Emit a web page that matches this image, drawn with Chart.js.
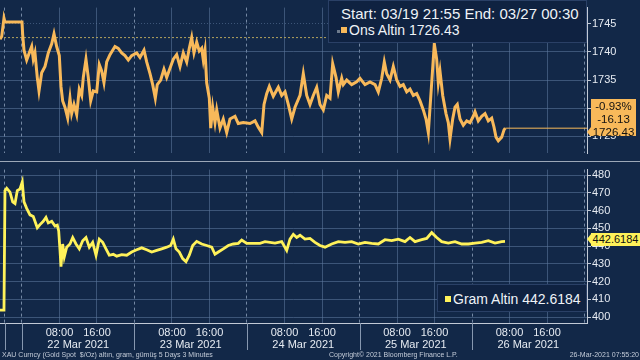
<!DOCTYPE html>
<html>
<head>
<meta charset="utf-8">
<script src="https://cdn.jsdelivr.net/npm/chart.js@4.4.0/dist/chart.umd.min.js"></script>
<style>
  html, body { margin: 0; padding: 0; background: #122848; width: 640px; height: 360px; overflow: hidden; }
  body { font-family: "Liberation Sans", Arial, sans-serif; color: #eef2f7; }
  #wrap { position: relative; width: 640px; height: 360px; }
  #topBox { position: absolute; left: 0; top: 0; width: 640px; height: 161px; }
  #botBox { position: absolute; left: 0; top: 162px; width: 640px; height: 190px; }
  #sep { position: absolute; left: 0; top: 161px; width: 640px; height: 1px; background: #9ca8b8; }
  .legend { position: absolute; background: #0f2241; border: 1px solid #2a4066; box-sizing: border-box; white-space: nowrap; }
  .legend .row { position: absolute; font-size: 14px; line-height: 16px; }
  .sq { display: inline-block; width: 6px; height: 6px; margin-right: 2px; vertical-align: 2px; }
  .tag { position: absolute; color: #111; text-align: center; font-size: 11.5px; line-height: 13px; }
  .foot { position: absolute; top: 350px; font-size: 7px; line-height: 9px; color: #c3cbd8; white-space: nowrap; }
</style>
</head>
<body>
<div id="wrap">
  <div id="topBox"><canvas id="onsChart"></canvas></div>
  <div id="sep"></div>
  <div id="botBox"><canvas id="gramChart"></canvas></div>

  <div class="legend" style="left:328px;top:0;width:259px;height:43px;">
    <div class="row" style="left:12px;top:5px;font-size:15px;">Start: 03/19 21:55 End: 03/27 00:30</div>
    <div class="row" style="left:8px;top:21px;"><span class="sq" style="background:#6d7a8c;width:3px;height:3px;margin-right:1px;"></span><span class="sq" style="background:#f8b95a;"></span>Ons Altin 1726.43</div>
  </div>

  <div class="legend" style="left:437px;top:284px;width:150px;height:28px;">
    <div class="row" style="left:7px;top:6px;"><span class="sq" style="background:#fff25a;"></span>Gram Altin 442.6184</div>
  </div>

  <div class="tag" style="left:591px;top:99px;width:45px;height:37px;background:#f8b95a;padding-top:1px;box-sizing:border-box;">-0.93%<br>-16.13<br>1726.43</div>
  <div style="position:absolute;left:587px;top:127px;width:0;height:0;border-top:5px solid transparent;border-bottom:5px solid transparent;border-right:4px solid #f8b95a;"></div>
  <div class="tag" style="left:591px;top:233px;width:49px;height:13px;background:#fff25a;font-size:11px;">442.6184</div>
  <div style="position:absolute;left:587px;top:234px;width:0;height:0;border-top:5px solid transparent;border-bottom:5px solid transparent;border-right:4px solid #fff25a;"></div>

  <div class="foot" style="left:2px;">XAU Curncy (Gold Spot &nbsp;$/Oz) altın, gram, gümüş 5 Days 3 Minutes</div>
  <div class="foot" style="left:329px;">Copyright© 2021 Bloomberg Finance L.P.</div>
  <div class="foot" style="right:1px;">26-Mar-2021 07:55:20</div>
</div>

<script>
// trading hours counted from 22 Mar 2021 00:00 (weekend squeezed out, like the terminal does)
const onsHours = [-4.69,-4.33,-3.84,-3.63,0,0.15,0.43,1.0,1.56,2.07,
  2.41,2.77,3.26,3.63,4.2,4.91,5.61,6.34,6.83,7.4,
  7.96,8.32,8.68,9.17,9.75,10.24,10.6,11.09,11.67,12.22,
  12.74,13.08,13.65,14.14,14.66,15.21,15.94,16.49,17.0,17.49,
  18.07,18.77,19.84,20.54,21.27,21.97,22.68,23.4,24.47,25.17,
  26.03,26.6,27.31,27.88,28.44,28.86,29.59,30.29,30.87,31.57,
  32.28,33.0,33.71,34.41,35.14,35.69,36.2,36.69,37.27,37.82,
  38.34,38.68,39.04,39.4,39.96,40.26,40.68,41.17,41.54,42.24,
  42.94,43.67,44.37,45.44,46.14,47.21,48.64,49.71,50.41,51.14,
  51.63,52.2,52.76,53.61,54.68,55.4,56.11,56.81,57.54,58.24,
  59.31,60.01,60.74,61.44,62.14,62.87,63.57,64.28,65.0,65.71,
  66.28,66.99,67.48,68.2,68.54,69.27,70.33,71.4,72.1,73.17,
  74.24,75.31,76.01,76.74,77.29,77.8,78.51,79.21,79.94,80.64,
  81.34,82.07,82.77,83.48,84.2,84.91,85.61,86.19,86.68,87.18,
  87.61,87.96,88.46,88.81,89.17,89.75,90.45,90.94,91.31,91.88,
  92.37,92.86,93.44,94.14,94.87,95.57,96.27,96.64,97.34,98.07,
  98.77,99.48,100.2,100.69,101.12,101.61,102.33,102.83,103.1];

const onsValues = [1742.26,1742.74,1746.02,1745.32,1745.32,1743.06,1740.32,1738.55,1739.84,1740.97,
  1738.71,1739.84,1735.48,1733.06,1736.29,1737.42,1739.84,1741.45,1743.23,1740.97,
  1739.35,1733.87,1731.29,1730.16,1728.23,1731.77,1729.03,1730.65,1728.87,1733.39,
  1732.26,1735.48,1738.71,1735.48,1731.29,1733.06,1732.9,1737.74,1736.61,1734.52,
  1738.23,1739.52,1740.97,1740.65,1739.84,1739.35,1738.55,1739.35,1739.84,1739.03,
  1740.32,1738.23,1736.13,1734.19,1731.77,1734.19,1735.0,1736.94,1735.48,1737.1,
  1738.71,1739.52,1737.42,1739.84,1738.23,1740.65,1742.58,1739.84,1741.77,1740.16,
  1740.65,1738.55,1740.32,1734.52,1731.77,1726.45,1730.16,1727.42,1729.68,1726.45,
  1728.06,1725.65,1728.06,1728.55,1727.26,1727.42,1727.26,1727.74,1726.61,1725.65,
  1730.65,1732.58,1733.87,1732.1,1733.71,1732.26,1732.9,1730.65,1728.06,1730.16,
  1732.26,1736.13,1732.26,1730.65,1732.26,1733.71,1730.65,1729.68,1732.26,1731.77,
  1737.9,1735.48,1732.9,1735.32,1734.19,1735.0,1734.19,1734.68,1735.32,1734.19,
  1734.68,1734.19,1732.9,1735.32,1738.23,1736.13,1735.0,1737.42,1735.0,1733.87,
  1734.19,1732.9,1733.39,1732.26,1732.58,1731.29,1729.68,1728.06,1725.65,1731.77,
  1737.1,1741.45,1738.71,1734.52,1736.61,1732.26,1729.03,1727.42,1724.52,1728.06,
  1730.16,1730.65,1728.06,1726.94,1727.74,1727.42,1728.55,1729.35,1727.74,1728.55,
  1729.03,1727.74,1728.23,1726.61,1724.84,1724.19,1724.84,1726.13,1726.43];

const gramHours = [-4.69,-3.84,-3.63,-3.26,-2.56,-1.98,-1.49,-1.0,-0.43,0.06,
  0.43,1.0,1.71,2.41,2.77,3.26,3.84,4.54,5.12,5.61,
  6.34,7.04,7.53,7.83,8.11,8.32,8.68,9.02,9.54,10.24,
  10.82,11.52,12.22,12.95,13.65,14.36,15.08,15.79,16.49,17.22,
  17.92,18.62,19.48,20.2,21.27,22.34,23.4,24.47,25.54,26.6,
  27.67,28.74,29.8,30.87,31.72,32.28,32.85,33.56,34.28,34.99,
  35.69,36.42,37.27,38.34,39.4,40.47,41.17,41.88,42.94,44.01,
  45.08,46.14,46.87,47.94,49.34,50.77,51.84,53.97,55.4,56.47,
  57.17,57.88,58.6,59.31,60.37,61.44,62.51,63.57,64.64,66.07,
  67.48,68.91,70.33,71.74,73.17,74.6,76.01,77.44,78.87,80.27,
  81.7,82.77,83.84,85.27,86.33,87.4,88.46,89.53,90.94,92.37,
  93.8,95.21,96.64,98.07,99.48,100.91,102.33,103.04];

const gramValues = [403.9,403.9,471.26,472.57,470.38,464.92,463.99,471.26,472.19,476.17,
  464.92,461.26,457.6,456.72,453.99,450.33,452.13,453.99,456.17,453.06,
  453.99,451.26,451.8,448.52,437.6,428.47,441.2,433.93,439.4,441.2,
  444.86,441.2,438.47,443.06,444.86,439.4,442.13,434.86,443.93,442.13,
  438.47,434.86,435.41,434.32,435.19,434.86,436.67,437.92,439.02,437.92,
  436.67,437.6,438.47,439.4,440.33,443.93,438.47,436.67,433.01,431.2,
  434.86,440.33,442.68,441.2,440.33,439.4,435.41,436.67,438.47,440.33,
  441.2,441.58,443.39,441.58,441.58,441.58,442.51,441.75,442.51,437.6,
  443.93,446.67,444.86,446.12,443.93,444.32,442.13,440.33,439.4,441.2,
  442.51,442.13,442.51,441.2,442.13,441.58,441.2,443.61,443.06,443.93,
  442.51,444.86,442.51,443.61,444.32,447.6,444.86,442.51,441.75,442.51,
  441.2,441.2,441.75,442.13,443.06,441.75,442.51,442.62];

const onsLast = 1726.43;
const onsChange = -16.13;
const prevClose = onsLast - onsChange; // 1742.56

const onsTicks = [1725, 1730, 1735, 1740, 1745];
const gramTicks = [400, 410, 420, 430, 440, 450, 460, 470, 480];
const gridHours = [-3.63, 0, 8, 16, 24, 32, 40, 48, 56, 64, 72, 80, 88, 96, 104, 112, 120];
const dayBreaks = [-3.63, 0, 24, 48, 72, 96];
const dateHours = [12, 36, 60, 84, 108];
const dateLabels = ['22 Mar 2021', '23 Mar 2021', '24 Mar 2021', '25 Mar 2021', '26 Mar 2021'];

const xMin = -4.69, xMax = 120.53;
const FONT = '"Liberation Sans", Arial, sans-serif';
const tickTxt = '#e6ebf2';
const axisCol = '#c2cad6';

function pts(xs, ys) { return xs.map((x, i) => ({ x: x, y: ys[i] })); }
function isBreak(v) { return v < 0 || v % 24 === 0; }

function xGrid() {
  return {
    color: c => (c.tick && isBreak(c.tick.value)) ? 'rgba(150,168,195,0.75)' : 'rgba(95,122,160,0.55)',
    lineWidth: 1,
    drawTicks: false
  };
}
function xBorder() {
  return { display: false, dash: c => (c.tick && isBreak(c.tick.value)) ? [3, 3] : [] };
}
function yGrid() {
  return { color: 'rgba(95,122,160,0.55)', tickColor: axisCol, tickLength: 4, lineWidth: 1 };
}

const onsChart = new Chart(document.getElementById('onsChart'), {
  type: 'line',
  data: {
    datasets: [{
      data: pts(onsHours, onsValues),
      borderColor: '#f8b95a', borderWidth: 3, pointRadius: 0, tension: 0
    }, {
      data: pts([onsHours[onsHours.length - 1], xMax], [onsLast, onsLast]),
      borderColor: '#f8b95a', borderWidth: 1, pointRadius: 0
    }, {
      data: pts([xMin, xMax], [prevClose, prevClose]),
      borderColor: '#b3a35e', borderWidth: 1, borderDash: [2, 2], pointRadius: 0
    }]
  },
  options: {
    responsive: true, maintainAspectRatio: false, animation: false,
    layout: { padding: 0 },
    plugins: { legend: { display: false }, tooltip: { enabled: false } },
    scales: {
      x: {
        type: 'linear', min: xMin, max: xMax,
        afterBuildTicks: s => { s.ticks = gridHours.map(v => ({ value: v })); },
        afterFit: s => { s.height = 0; },
        ticks: { display: false },
        grid: xGrid(), border: xBorder()
      },
      y: {
        position: 'right', min: 1721.94, max: 1747.9,
        afterBuildTicks: s => { s.ticks = onsTicks.map(v => ({ value: v })); },
        afterFit: s => { s.width = 53; },
        ticks: { color: tickTxt, font: { family: FONT, size: 11 }, padding: 1, callback: v => String(v) },
        grid: yGrid(),
        border: { color: axisCol, dash: c => (c.tick && c.tick.value === 1745) ? [1, 2] : [] }
      }
    }
  }
});

// short dividers between the day labels under the lower panel
const dividers = {
  id: 'dividers',
  afterDraw(chart) {
    const ctx = chart.ctx, x = chart.scales.x, b = chart.chartArea.bottom;
    ctx.save();
    ctx.strokeStyle = '#8798b0';
    ctx.lineWidth = 1;
    dayBreaks.forEach(h => {
      const px = Math.round(x.getPixelForValue(h)) + 0.5;
      ctx.beginPath(); ctx.moveTo(px, b); ctx.lineTo(px, b + 27); ctx.stroke();
    });
    ctx.restore();
  }
};

const gramChart = new Chart(document.getElementById('gramChart'), {
  type: 'line',
  data: {
    datasets: [{
      data: pts(gramHours, gramValues),
      borderColor: '#fff25a', borderWidth: 2.8, pointRadius: 0, tension: 0
    }]
  },
  options: {
    responsive: true, maintainAspectRatio: false, animation: false,
    layout: { padding: { top: 3 } },
    plugins: { legend: { display: false }, tooltip: { enabled: false } },
    scales: {
      x: {
        type: 'linear', min: xMin, max: xMax, weight: 0,
        afterBuildTicks: s => { s.ticks = gridHours.map(v => ({ value: v })); },
        afterFit: s => { s.height = 15; },
        ticks: {
          color: tickTxt, font: { family: FONT, size: 11 }, padding: 3, maxRotation: 0, autoSkip: false,
          callback: v => (v % 24 === 8 ? '08:00' : v % 24 === 16 ? '16:00' : '')
        },
        grid: xGrid(),
        border: { display: true, color: axisCol, dash: c => (c.tick && isBreak(c.tick.value)) ? [3, 3] : [] }
      },
      xd: {
        type: 'linear', position: 'bottom', min: xMin, max: xMax, weight: 1,
        afterBuildTicks: s => { s.ticks = dateHours.map(v => ({ value: v })); },
        afterFit: s => { s.height = 14; },
        ticks: {
          color: tickTxt, font: { family: FONT, size: 11 }, padding: 0, maxRotation: 0, autoSkip: false,
          callback: v => dateLabels[dateHours.indexOf(v)]
        },
        grid: { display: false, drawTicks: false }, border: { display: false }
      },
      y: {
        position: 'right', min: 396.7, max: 483.1,
        afterBuildTicks: s => { s.ticks = gramTicks.map(v => ({ value: v })); },
        afterFit: s => { s.width = 53; },
        ticks: { color: tickTxt, font: { family: FONT, size: 11 }, padding: 1, callback: v => String(v) },
        grid: yGrid(),
        border: { color: axisCol }
      }
    }
  },
  plugins: [dividers]
});
</script>
</body>
</html>
